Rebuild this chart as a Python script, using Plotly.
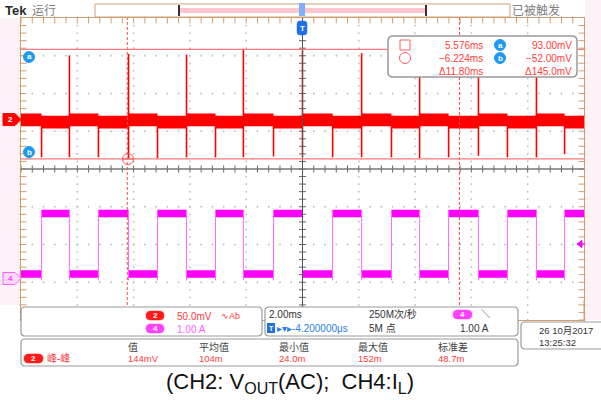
import plotly.graph_objects as go
import numpy as np

W, H = 601, 400
SX0, SX1, SY0, SY1 = 21, 584, 18, 320  # oscilloscope screen box (px)

# ---------------- data ----------------
time_range_ms = [-10, 10]            # 2.00 ms/div, 10 div
div_range = [-4, 4]                  # 8 vertical divisions
rise_ms = [-9.27, -7.25, -5.15, -3.09, -1.03, 1.07, 3.16, 5.19, 7.28, 9.31]   # I_L low->high
fall_ms = [-8.28, -6.18, -4.12, -2.10, 0.0, 2.10, 4.16, 6.25, 8.31]           # I_L high->low
fall_spike_max_mV = [85, 87, 86, 93, 92, 88, 90, 89, 88]
fall_spike_min_mV = [-50, -51, -50, -50, -50, -50, -51, -48, -50]
rise_spike_min_mV = [-50, -50, -51, -50, -49, -50, -50, -50, -50, -46]
vout_band_low_phase_mV = [8, -9]     # top / bottom of noise band while I_L is low
vout_band_high_phase_mV = [5, -12]   # while I_L is high
il_low_A = 0.12
il_high_A = 1.72
il_band_half_A = 0.1
ch2_scale_mV = 50.0
ch2_pos_div = 1.31
ch4_scale_A = 1.0
ch4_pos_div = -2.9
cursor_t_ms = [5.576, -6.224]
cursor_v_mV = [93.0, -52.0]

readout_rows = [["5.576ms", "93.00mV"], ["−6.224ms", "−52.00mV"], ["Δ11.80ms", "Δ145.0mV"]]
meas_headers = ["值", "平均值", "最小值", "最大值", "标准差"]
meas_values = ["144mV", "104m", "24.0m", "152m", "48.7m"]

# ---------------- helpers ----------------
def px(x): return x / W
def py(y): return 1 - y / H
def v2div(mv): return mv / ch2_scale_mV + ch2_pos_div
def a2div(a): return a / ch4_scale_A + ch4_pos_div

FONT = "Liberation Sans, Arial, Noto Sans CJK SC, sans-serif"
RED = "#ff0000"
RTXT = "#ff3c3c"
MAG = "#ff00ff"
MTXT = "#ff5cff"
TAN = "#cf9f72"
BLUE = "#1e9bf0"
GRAY = "#999999"

shapes, annos = [], []

def rrect(x0, y0, x1, y1, r=4, line=GRAY, fill="white", lw=1.2, layer="above"):
    rx, ry = r / W, r / H
    a0, a1 = px(x0), px(x1)
    b0, b1 = py(y0), py(y1)  # b0 top (larger)
    p = (f"M{a0+rx},{b0} L{a1-rx},{b0} Q{a1},{b0} {a1},{b0-ry} L{a1},{b1+ry} "
         f"Q{a1},{b1} {a1-rx},{b1} L{a0+rx},{b1} Q{a0},{b1} {a0},{b1+ry} "
         f"L{a0},{b0-ry} Q{a0},{b0} {a0+rx},{b0} Z")
    shapes.append(dict(type="path", xref="paper", yref="paper", path=p,
                       line=dict(color=line, width=lw), fillcolor=fill, layer=layer))

def rect(x0, y0, x1, y1, line=None, fill=None, lw=1, layer="above"):
    shapes.append(dict(type="rect", xref="paper", yref="paper",
                       x0=px(x0), x1=px(x1), y0=py(y1), y1=py(y0),
                       line=dict(color=line or "rgba(0,0,0,0)", width=lw if line else 0),
                       fillcolor=fill or "rgba(0,0,0,0)", layer=layer))

def pline(x0, y0, x1, y1, color, w=1, dash=None, layer="above"):
    d = dict(type="line", xref="paper", yref="paper", x0=px(x0), x1=px(x1),
             y0=py(y0), y1=py(y1), line=dict(color=color, width=w), layer=layer)
    if dash: d["line"]["dash"] = dash
    shapes.append(d)

def circ(cx, cy, r, line, fill, lw=1):
    shapes.append(dict(type="circle", xref="paper", yref="paper",
                       x0=px(cx - r), x1=px(cx + r), y0=py(cy + r), y1=py(cy - r),
                       line=dict(color=line, width=lw), fillcolor=fill, layer="above"))

def text(x, y, s, size=10, color="#333", anchor="left", bold=False, family=FONT):
    if bold: s = f"<b>{s}</b>"
    annos.append(dict(x=px(x), y=py(y), xref="paper", yref="paper", text=s,
                      showarrow=False, xanchor=anchor, yanchor="middle",
                      font=dict(size=size, color=color, family=family), borderpad=0))

def pill(x0, y0, x1, y1, label, fill):
    rrect(x0, y0, x1, y1, r=(y1 - y0) / 2, line=fill, fill=fill, lw=0.5)
    text((x0 + x1) / 2, (y0 + y1) / 2, label, size=8, color="white", anchor="center", bold=True)

# ---------------- traces ----------------
edges = sorted([(t, "R") for t in rise_ms] + [(t, "F") for t in fall_ms])
bounds = [time_range_ms[0]] + [t for t, _ in edges] + [time_range_ms[1]]
phase_high = [False] + [k == "R" for _, k in edges]

fig = go.Figure()

# grid dots
major_x = [v for v in np.arange(-8, 8.01, 2) if abs(v) > 1e-9]
major_y = [v for v in np.arange(-3, 3.01, 1) if abs(v) > 1e-9]
minor_x = np.arange(-10, 10.001, 0.4)
minor_y = np.arange(-4, 4.001, 0.2)
gx, gy = [], []
for xv in major_x:
    gx += [xv] * len(minor_y); gy += list(minor_y)
for yv in major_y:
    gx += list(minor_x); gy += [yv] * len(minor_x)
fig.add_trace(go.Scatter(x=gx, y=gy, mode="markers", hoverinfo="skip",
                         marker=dict(size=1.8, color="#bdbdbd")))

# center crosshair ticks
fig.add_trace(go.Scatter(x=[0] * len(minor_y), y=minor_y, mode="markers", hoverinfo="skip",
                         marker=dict(symbol="line-ew", size=5, line=dict(width=1, color="#666"))))
fig.add_trace(go.Scatter(x=minor_x, y=[0] * len(minor_x), mode="markers", hoverinfo="skip",
                         marker=dict(symbol="line-ns", size=5, line=dict(width=1, color="#666"))))
# border ticks
fig.add_trace(go.Scatter(x=minor_x, y=[3.95] * len(minor_x), mode="markers", hoverinfo="skip",
                         cliponaxis=False,
                         marker=dict(symbol="line-ns", size=5, line=dict(width=1, color=TAN))))
fig.add_trace(go.Scatter(x=[-9.93] * len(minor_y) + [9.93] * len(minor_y),
                         y=list(minor_y) * 2, mode="markers", hoverinfo="skip", cliponaxis=False,
                         marker=dict(symbol="line-ew", size=5, line=dict(width=1, color=TAN))))

# CH4 inductor current band
tx, ty, bx, by = [], [], [], []
for i in range(len(bounds) - 1):
    a, b = bounds[i], bounds[i + 1]
    lvl = il_high_A if phase_high[i] else il_low_A
    tx += [a, b]; ty += [a2div(lvl + il_band_half_A)] * 2
    bx += [a, b]; by += [a2div(lvl - il_band_half_A)] * 2
fig.add_trace(go.Scatter(x=tx + bx[::-1], y=ty + by[::-1], mode="lines", fill="toself",
                         fillcolor=MAG, line=dict(width=0), hoverinfo="skip"))
ex, ey = [], []
for t, _ in edges:
    ex += [t, t, None]; ey += [a2div(il_low_A - 0.17), a2div(il_high_A + 0.1), None]
fig.add_trace(go.Scatter(x=ex, y=ey, mode="lines", line=dict(color="#ff66ff", width=1),
                         hoverinfo="skip", connectgaps=False))

# CH2 output ripple band
tx, ty, bx, by = [], [], [], []
for i in range(len(bounds) - 1):
    a, b = bounds[i], bounds[i + 1]
    top, bot = vout_band_high_phase_mV if phase_high[i] else vout_band_low_phase_mV
    tx += [a, b]; ty += [v2div(top)] * 2
    bx += [a, b]; by += [v2div(bot)] * 2
fig.add_trace(go.Scatter(x=tx + bx[::-1], y=ty + by[::-1], mode="lines", fill="toself",
                         fillcolor=RED, line=dict(width=0), hoverinfo="skip"))
sx, sy = [], []
for t, mx, mn in zip(fall_ms, fall_spike_max_mV, fall_spike_min_mV):
    sx += [t, t, None]; sy += [v2div(mn), v2div(mx), None]
for t, mn in zip(rise_ms, rise_spike_min_mV):
    sx += [t, t, None]; sy += [v2div(0), v2div(mn), None]
fig.add_trace(go.Scatter(x=sx, y=sy, mode="lines", line=dict(color=RED, width=1.6),
                         hoverinfo="skip", connectgaps=False))

# ---------------- shapes ----------------
# pink margins
rect(0, 18, SX0 - 1, 305, fill="#fcf1f7", layer="below")
rect(SX1 + 1, 0, W, 320, fill="#fcf1f7", layer="below")

# center crosshair
shapes.append(dict(type="line", xref="x", yref="y", x0=0, x1=0, y0=-4, y1=4,
                   line=dict(color="#555", width=1), layer="above"))
shapes.append(dict(type="line", xref="x", yref="y", x0=-10, x1=10, y0=0, y1=0,
                   line=dict(color="#777", width=1.5), layer="above"))

# cursors
for t in cursor_t_ms:
    shapes.append(dict(type="line", xref="x", yref="y", x0=t, x1=t, y0=-4, y1=4,
                       line=dict(color="#ff4a4a", width=1, dash="3px,2px"), layer="above"))
for v in cursor_v_mV:
    shapes.append(dict(type="line", xref="x", yref="y", x0=-10, x1=10, y0=v2div(v), y1=v2div(v),
                       line=dict(color="#ff7a7a", width=1.2), layer="above"))

# cursor markers on screen
circ(29, 57, 5.5, BLUE, BLUE); text(29, 57, "a", 8, "white", "center", True)
circ(29, 152, 5.5, BLUE, BLUE); text(29, 152, "b", 8, "white", "center", True)
circ(128, 159, 5.5, "#ff5a5a", "rgba(255,255,255,0)")
pline(123, 159, 133, 159, "#ff5a5a")

# channel ground tags (left)
y2 = 169 - ch2_pos_div * 37.75
shapes.append(dict(type="path", xref="paper", yref="paper",
                   path=f"M{px(3)},{py(y2-6)} L{px(15)},{py(y2-6)} L{px(21)},{py(y2)} L{px(15)},{py(y2+6)} L{px(3)},{py(y2+6)} Z",
                   fillcolor=RED, line=dict(color=RED, width=1), layer="above"))
text(10, y2, "2", 8, "white", "center", True)
y4 = 169 - ch4_pos_div * 37.75
shapes.append(dict(type="path", xref="paper", yref="paper",
                   path=f"M{px(3)},{py(y4-6)} L{px(15)},{py(y4-6)} L{px(21)},{py(y4)} L{px(15)},{py(y4+6)} L{px(3)},{py(y4+6)} Z",
                   fillcolor="#ffd9ff", line=dict(color="#ff5cff", width=1), layer="above"))
text(10, y4, "4", 8, "#ff40ff", "center", True)

# trigger level arrow (right)
shapes.append(dict(type="path", xref="paper", yref="paper",
                   path=f"M{px(577)},{py(244)} L{px(582)},{py(240.5)} L{px(582)},{py(247.5)} Z",
                   fillcolor=MAG, line=dict(color=MAG, width=1), layer="above"))
pline(581, 244, 585, 244, MAG)

# trigger position marker
rrect(297, 21, 307, 35, r=3, line="#1f6fe5", fill="#1f6fe5", lw=0.5)
text(302, 28, "T", 8, "white", "center", True)

# top bar
rect(95, 4, 510, 17, line=TAN, fill="white", lw=1)
rect(180, 8, 426, 13, fill="#ffc6cf")
pline(179, 5, 179, 16, "#333", 2)
pline(426, 5, 426, 16, "#333", 2)
rect(299, 3, 305, 16, fill="#7fb0ff")
text(4, 11, "Tek", 13, "#2a2a2a", bold=True)
text(31, 11, "运行", 12, "#808080")
text(511, 11, "已被触发", 12, "#808080")

# readout box
rrect(388, 36, 577, 77, r=5, line="#9a9a9a", fill="white", lw=1.5)
rect(400, 40, 410, 50, line="#ff6060", lw=1)
circ(405, 58, 5.5, "#ff6060", "rgba(255,255,255,0)")
for i, (tv, vv) in enumerate(readout_rows):
    yy = 45 + 13 * i
    text(484, yy, tv, 10, RTXT, "right")
    text(573, yy, vv, 10, RTXT, "right")
circ(500, 45, 5.5, BLUE, BLUE); text(500, 45, "a", 8, "white", "center", True)
circ(500, 58, 5.5, BLUE, BLUE); text(500, 58, "b", 8, "white", "center", True)

# bottom panel 1
rrect(21, 307, 262, 336, r=4)
pill(146, 311, 164, 320, "2", "#ff1a1a")
text(176, 316, "50.0mV", 10, RTXT)
text(220, 316, "∿Ab", 9, RTXT)
pill(146, 324, 164, 333, "4", "#ff40ff")
text(176, 329, "1.00 A", 10, MTXT)

# bottom panel 2
rrect(265, 307, 518, 336, r=4)
text(268, 314, "2.00ms", 10, "#333")
text(368, 314, "250M次/秒", 10, "#333")
pill(453, 310, 472, 319, "4", "#ff40ff")
text(480, 313, "╲", 9, "#333")
rect(267, 323, 275, 333, fill="#1f6fe5")
text(271, 328, "T", 7, "white", "center", True)
text(276, 328, "▸▾▸-4.200000μs", 10, "#2b7de9")
text(368, 328, "5M 点", 10, "#333")
text(459, 328, "1.00 A", 10, "#333")

# date box
pline(SX1, 300, SX1, 322, TAN)
rrect(521, 322, 606, 349, r=4)
text(538, 330, "26 10月2017", 9.5, "#333")
text(538, 342, "13:25:32", 9.5, "#333")

# measurement panel
rrect(21, 339, 518, 366, r=4)
pill(24, 354, 43, 363, "2", "#ff1a1a")
text(46, 358.5, "峰-峰", 10, RTXT)
col_x = [127, 198, 278, 357, 437]
for hx, hv, vv in zip(col_x, meas_headers, meas_values):
    text(hx, 347, hv, 10, "#444")
    text(hx, 358.5, vv, 9.5, RTXT)

# caption
SUB = "<sub><span style='font-size:16px'>{}</span></sub>"
text(290, 383, "(CH2: V" + SUB.format("OUT") + "(AC);  CH4:I" + SUB.format("L") + ")",
     22, "#111", "center", family="Liberation Sans, Arial, sans-serif")

fig.update_layout(
    width=W, height=H, margin=dict(l=0, r=0, t=0, b=0),
    paper_bgcolor="white", plot_bgcolor="white", showlegend=False,
    xaxis=dict(domain=[px(SX0), px(SX1)], range=time_range_ms, showgrid=False, zeroline=False,
               showticklabels=False, showline=True, mirror=True, linecolor=TAN, linewidth=1,
               fixedrange=True),
    yaxis=dict(domain=[py(SY1), py(SY0)], range=div_range, showgrid=False, zeroline=False,
               showticklabels=False, showline=True, mirror=True, linecolor=TAN, linewidth=1,
               fixedrange=True),
    shapes=shapes, annotations=annos,
)
fig.write_html("out.html", config={"displayModeBar": False},
               post_script="document.body.style.margin='0px';document.body.style.overflow='hidden';")
